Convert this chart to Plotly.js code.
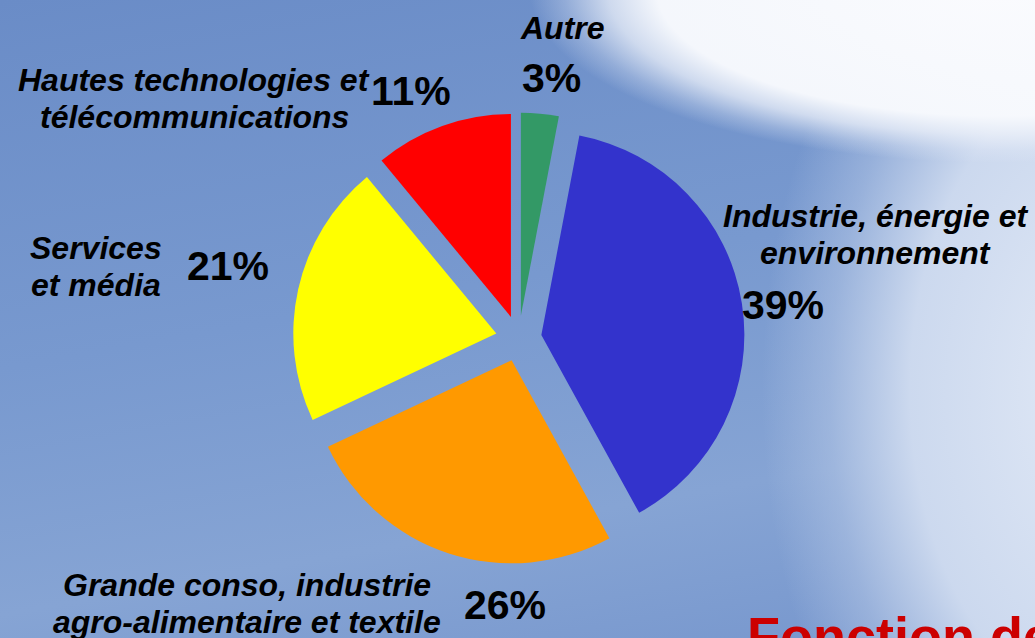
<!DOCTYPE html>
<html>
<head>
<meta charset="utf-8">
<script src="https://cdn.plot.ly/plotly-3.0.1.min.js"></script>
<style>
  html, body { margin: 0; padding: 0; overflow: hidden; }
  body {
    width: 1035px; height: 638px;
    background:
      radial-gradient(ellipse 490px 180px at 1000px -10px, rgba(250,251,254,1) 0%, rgba(247,249,253,0.98) 70%, rgba(238,242,250,0.75) 80%, rgba(230,236,248,0.3) 89%, rgba(230,236,248,0) 96%),
      radial-gradient(ellipse 400px 600px at 1130px 390px, rgba(228,235,247,1) 0%, rgba(208,220,240,0.95) 55%, rgba(178,197,229,0.55) 75%, rgba(160,185,222,0) 92%),
      linear-gradient(170deg, rgb(106,140,199) 0%, rgb(120,153,207) 45%, rgb(134,164,212) 75%, rgb(118,150,205) 100%);
  }
  #chart { width: 1035px; height: 638px; }
</style>
</head>
<body>
<div id="chart"></div>
<script>
// ---- data ----
const categories = [
  'Autre',
  'Industrie, énergie et<br>environnement',
  'Grande conso, industrie<br>agro-alimentaire et textile',
  'Services<br>et média',
  'Hautes technologies et<br>télécommunications'
];
const values = [3, 39, 26, 21, 11];
const sliceColors = ['#339966', '#3333CC', '#FF9900', '#FFFF00', '#FF0000'];
const footerText = 'Fonction de';

// ---- layout helpers (pixel positions of labels) ----
const W = 1035, H = 638;
const px = x => x / W;
const py = y => 1 - y / H;

// label line centres [x, firstLineY], line spacing
const labelPos = [
  [562, 28],
  [875, 216],
  [247, 585],
  [96, 248],
  [194, 80]
];
const pctPos = [
  [551, 78],
  [783, 305],
  [505, 605],
  [228, 266],
  [411, 91]
];
const lineGap = 37;

const annotations = [];
categories.forEach((cat, i) => {
  const lines = cat.split('<br>');
  lines.forEach((ln, j) => {
    annotations.push({
      xref: 'paper', yref: 'paper',
      x: px(labelPos[i][0]), y: py(labelPos[i][1] + j * lineGap),
      xanchor: 'center', yanchor: 'middle',
      text: '<b><i>' + ln + '</i></b>',
      showarrow: false,
      font: { family: 'Liberation Sans, Arial, sans-serif', size: 32, color: '#000000' }
    });
  });
  annotations.push({
    xref: 'paper', yref: 'paper',
    x: px(pctPos[i][0]), y: py(pctPos[i][1]),
    xanchor: 'center', yanchor: 'middle',
    text: '<b>' + values[i] + '%</b>',
    showarrow: false,
    font: { family: 'Liberation Sans, Arial, sans-serif', size: 41, color: '#000000' }
  });
});
annotations.push({
  xref: 'paper', yref: 'paper',
  x: px(745), y: py(604),
  xanchor: 'left', yanchor: 'top',
  text: '<b>' + footerText + '</b>',
  showarrow: false,
  font: { family: 'Liberation Sans, Arial, sans-serif', size: 54, color: '#CC0000' }
});

// pie geometry
const cx = 518.7, cy = 338.5, r = 203, pull = 0.113;
const half = r * (1 + pull);

const trace = {
  type: 'pie',
  labels: categories,
  values: values,
  sort: false,
  direction: 'clockwise',
  rotation: 0,
  pull: pull,
  textinfo: 'none',
  hoverinfo: 'label+percent',
  showlegend: false,
  marker: { colors: sliceColors, line: { width: 0 } },
  domain: {
    x: [(cx - half) / W, (cx + half) / W],
    y: [1 - (cy + half) / H, 1 - (cy - half) / H]
  }
};

const layout = {
  width: W, height: H,
  margin: { l: 0, r: 0, t: 0, b: 0 },
  paper_bgcolor: 'rgba(0,0,0,0)',
  plot_bgcolor: 'rgba(0,0,0,0)',
  showlegend: false,
  annotations: annotations
};

Plotly.newPlot('chart', [trace], layout, { displayModeBar: false, staticPlot: true });
</script>
</body>
</html>
